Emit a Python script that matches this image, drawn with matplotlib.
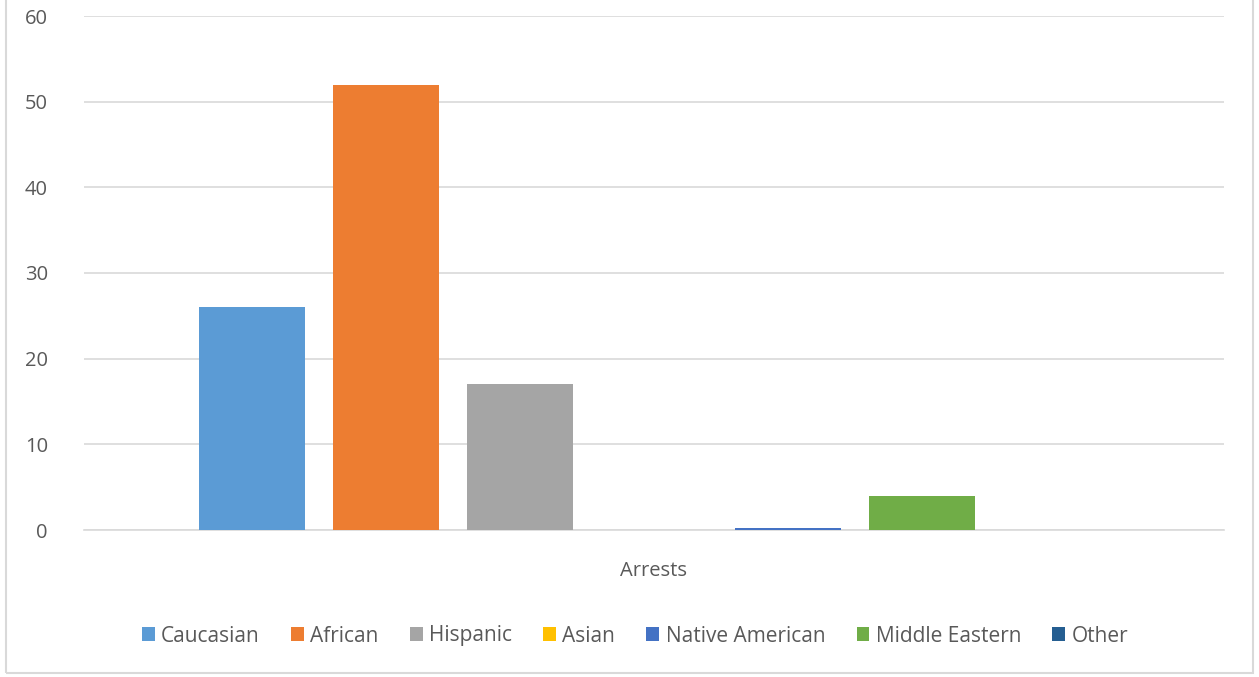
import matplotlib.pyplot as plt
from matplotlib.patches import Rectangle

# Данные
series = ["Caucasian", "African", "Hispanic", "Asian", "Native American", "Middle Eastern", "Other"]
values = [26, 52, 17, 0, 0.2, 4, 0]
colors = ["#5B9BD5", "#ED7D31", "#A5A5A5", "#FFC000", "#4472C4", "#70AD47", "#255E91"]
category = "Arrests"

W, H = 1259, 677
fig = plt.figure(figsize=(W / 100, H / 100), dpi=100)
plt.rcParams["font.family"] = ["Open Sans", "DejaVu Sans"]

# Область построения (в пикселях из оригинала)
left, right, top, bottom = 84, 1224, 16, 530
ax = fig.add_axes([left / W, 1 - bottom / H, (right - left) / W, (bottom - top) / H])

step = 134
half = (right - left) / 2 / step
for i, (name, v, c) in enumerate(zip(series, values, colors)):
    ax.bar(i, v, width=106 / step, color=c, label=name, zorder=3)

ax.set_xlim(3 - half, 3 + half)
ax.set_ylim(0, 60)
ax.set_yticks(range(0, 61, 10))
ax.grid(axis="y", color="#D9D9D9", linewidth=1.2, zorder=0)
for s in ["left", "right", "top"]:
    ax.spines[s].set_visible(False)
ax.spines["bottom"].set_color("#D9D9D9")
ax.spines["bottom"].set_linewidth(1.2)
ax.tick_params(axis="y", length=0, pad=26, labelsize=14.5, labelcolor="#595959")
ax.set_xticks([])
ax.text(3, -4.75, category, ha="center", va="center", fontsize=14.5, color="#595959")

fig.legend(loc="center", bbox_to_anchor=(635 / W, 1 - 636 / H), ncol=7, frameon=False,
           fontsize=15, labelcolor="#595959", handlelength=0.62, handleheight=0.62,
           handletextpad=0.3, columnspacing=1.5)

# Рамка диаграммы
fig.patches.append(Rectangle((6 / W, 1 - 673 / H), (1253 - 6) / W, 673 / H + 0.01,
                             transform=fig.transFigure, fill=False, edgecolor="#D9D9D9",
                             linewidth=1.5))

fig.savefig("out.png", dpi=100)
